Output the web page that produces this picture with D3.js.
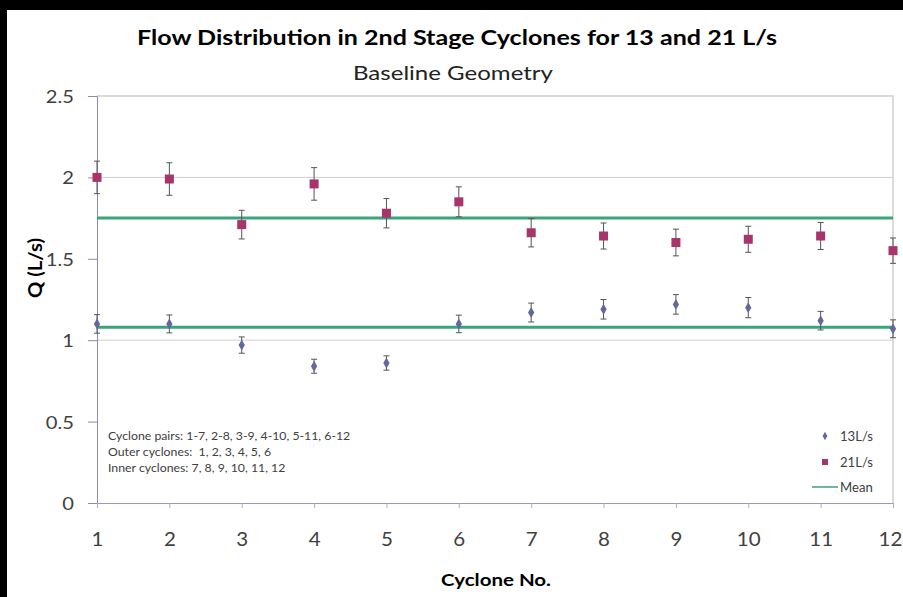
<!DOCTYPE html>
<html>
<head>
<meta charset="utf-8">
<script src="https://cdn.jsdelivr.net/npm/d3@7"></script>
<style>
  body { margin: 0; background: #000; }
  svg { display: block; }
  text { font-family: Lato, "Open Sans", sans-serif; }
</style>
</head>
<body>
<div id="chart"></div>
<script>
// 사이클론 번호
var cyclones = [1, 2, 3, 4, 5, 6, 7, 8, 9, 10, 11, 12];

// 13 L/s 유량 + 오차
var q13 = [1.10, 1.10, 0.97, 0.84, 0.86, 1.10, 1.17, 1.19, 1.22, 1.20, 1.12, 1.07];
var q13Err = [0.057, 0.055, 0.05, 0.043, 0.044, 0.054, 0.058, 0.06, 0.06, 0.062, 0.057, 0.055];

// 21 L/s 유량 + 오차
var q21 = [2.00, 1.99, 1.71, 1.96, 1.78, 1.85, 1.66, 1.64, 1.60, 1.62, 1.64, 1.55];
var q21Err = [0.10, 0.10, 0.088, 0.10, 0.09, 0.092, 0.087, 0.08, 0.082, 0.08, 0.083, 0.078];

// 평균선
var meanValues = [1.08, 1.75];

var yTicks = [0, 0.5, 1, 1.5, 2, 2.5];
var gridValues = [1, 2];

var annotationLines = [
    "Cyclone pairs: 1-7, 2-8, 3-9, 4-10, 5-11, 6-12",
    "Outer cyclones:  1, 2, 3, 4, 5, 6",
    "Inner cyclones: 7, 8, 9, 10, 11, 12"
];

var legendLabels = ["13L/s", "21L/s", "Mean"];

var svgWidth = 903, svgHeight = 597;
var margin = {top: 96, left: 97};
var width = 893 - margin.left;
var height = 503 - margin.top;

// 원본 그림이 가로로 늘어나 있어서 글자도 가로로 늘림
function stretch(sel, k) {
    sel.each(function() {
        var t = d3.select(this);
        var tx = +t.attr("x") || 0, ty = +t.attr("y") || 0;
        t.attr("x", 0).attr("y", 0)
            .attr("transform", "translate(" + tx + "," + ty + ") scale(" + k + ",1)");
    });
}

var root = d3.select("#chart").append("svg")
    .attr("width", svgWidth)
    .attr("height", svgHeight);

// 흰 배경 (검은 테두리 남김)
root.append("rect")
    .attr("x", 7).attr("y", 10)
    .attr("width", svgWidth - 7).attr("height", svgHeight - 10)
    .attr("fill", "#ffffff");

root.append("text")
    .attr("x", 457).attr("y", 45)
    .attr("text-anchor", "middle")
    .attr("font-size", "20px")
    .attr("font-weight", "bold")
    .attr("fill", "#000")
    .attr("textLength", 640)
    .attr("lengthAdjust", "spacingAndGlyphs")
    .text("Flow Distribution in 2nd Stage Cyclones for 13 and 21 L/s");

root.append("text")
    .attr("x", 453).attr("y", 80)
    .attr("text-anchor", "middle")
    .attr("font-size", "19px")
    .attr("fill", "#222")
    .attr("textLength", 200)
    .attr("lengthAdjust", "spacingAndGlyphs")
    .text("Baseline Geometry");

var svg = root.append("g")
    .attr("transform", "translate(" + margin.left + "," + margin.top + ")");

var x = d3.scaleLinear().domain([1, 12]).range([0, width]);
var y = d3.scaleLinear().domain([0, 2.5]).range([height, 0]);

// 격자선
svg.selectAll(".grid")
    .data(gridValues)
    .enter().append("line")
    .attr("class", "grid")
    .attr("x1", 0).attr("x2", width)
    .attr("y1", d => y(d)).attr("y2", d => y(d))
    .attr("stroke", "#cfcfcf")
    .attr("stroke-width", 1);

// 플롯 테두리 (위, 오른쪽)
svg.append("path")
    .attr("d", "M0," + y(2.5) + "H" + width + "V" + height)
    .attr("fill", "none")
    .attr("stroke", "#d0d0d0")
    .attr("stroke-width", 1.5);

var yAxis = svg.append("g")
    .call(d3.axisLeft(y).tickValues(yTicks).tickSize(9).tickPadding(0)
        .tickFormat(d => String(d)));
yAxis.select(".domain").attr("stroke", "#8c8ca8");
yAxis.selectAll(".tick line").attr("stroke", "#8c8ca8");
yAxis.selectAll(".tick text")
    .attr("x", -23)
    .attr("dy", "0.36em")
    .attr("font-size", "18px")
    .attr("fill", "#404040")
    .attr("font-family", "Lato, sans-serif")
    .call(stretch, 1.12);

var xAxis = svg.append("g")
    .attr("transform", "translate(0," + height + ")")
    .call(d3.axisBottom(x).tickValues(cyclones).tickSize(5).tickPadding(0)
        .tickFormat(d3.format("d")));
xAxis.select(".domain").attr("stroke", "#9a9aae");
xAxis.selectAll(".tick line").attr("stroke", "#b0b0b0");
xAxis.selectAll(".tick text")
    .attr("x", d => d === 12 ? -3 : 0)
    .attr("y", 43)
    .attr("dy", 0)
    .attr("font-size", "19px")
    .attr("fill", "#404040")
    .attr("font-family", "Lato, sans-serif")
    .call(stretch, 1.08);

// 축 제목
root.append("text")
    .attr("transform", "translate(42,268) rotate(-90)")
    .attr("text-anchor", "middle")
    .attr("font-size", "19px")
    .attr("font-weight", "bold")
    .attr("fill", "#000")
    .attr("textLength", 60)
    .attr("lengthAdjust", "spacingAndGlyphs")
    .text("Q (L/s)");

root.append("text")
    .attr("x", 496).attr("y", 586)
    .attr("text-anchor", "middle")
    .attr("font-size", "17px")
    .attr("font-weight", "bold")
    .attr("fill", "#000")
    .attr("textLength", 110)
    .attr("lengthAdjust", "spacingAndGlyphs")
    .text("Cyclone No.");

// 평균선
svg.selectAll(".mean")
    .data(meanValues)
    .enter().append("line")
    .attr("class", "mean")
    .attr("x1", x(1)).attr("x2", x(12))
    .attr("y1", d => y(d)).attr("y2", d => y(d))
    .attr("stroke", "#3aa57a")
    .attr("stroke-width", 3);

function drawErrorBars(values, errs) {
    var g = svg.append("g");
    var data = cyclones.map((c, i) => ({c: c, v: values[i], e: errs[i]}));
    g.selectAll(".eb")
        .data(data)
        .enter().append("path")
        .attr("d", d => {
            var cx = x(d.c), t = y(d.v + d.e), b = y(d.v - d.e);
            return "M" + cx + "," + t + "V" + b +
                "M" + (cx - 3) + "," + t + "H" + (cx + 3) +
                "M" + (cx - 3) + "," + b + "H" + (cx + 3);
        })
        .attr("fill", "none")
        .attr("stroke", "#555")
        .attr("stroke-width", 1);
}

drawErrorBars(q21, q21Err);
drawErrorBars(q13, q13Err);

// 21 L/s 사각형
svg.selectAll(".sq")
    .data(q21)
    .enter().append("rect")
    .attr("class", "sq")
    .attr("x", (d, i) => x(cyclones[i]) - 4.5)
    .attr("y", d => y(d) - 4.5)
    .attr("width", 9).attr("height", 9)
    .attr("fill", "#a8346c");

// 13 L/s 다이아몬드
var diamond = d3.symbol().type(d3.symbolDiamond).size(34);
svg.selectAll(".dm")
    .data(q13)
    .enter().append("path")
    .attr("class", "dm")
    .attr("d", diamond)
    .attr("transform", (d, i) => "translate(" + x(cyclones[i]) + "," + y(d) + ")")
    .attr("fill", "#6466a0");

// 주석
root.append("g").selectAll("text")
    .data(annotationLines)
    .enter().append("text")
    .attr("x", 108)
    .attr("y", (d, i) => 440 + i * 16)
    .attr("font-size", "11.5px")
    .attr("fill", "#404040")
    .attr("xml:space", "preserve")
    .style("white-space", "pre")
    .text(d => d)
    .call(stretch, 1.07);

// 범례
var legend = root.append("g");
legend.append("path")
    .attr("d", d3.symbol().type(d3.symbolDiamond).size(20))
    .attr("transform", "translate(825,436)")
    .attr("fill", "#6466a0");
legend.append("rect")
    .attr("x", 822).attr("y", 459).attr("width", 6).attr("height", 6)
    .attr("fill", "#a8346c");
legend.append("line")
    .attr("x1", 812).attr("x2", 838).attr("y1", 487).attr("y2", 487)
    .attr("stroke", "#3aa57a").attr("stroke-width", 1.5);
legend.selectAll(".lt")
    .data(legendLabels)
    .enter().append("text")
    .attr("x", 840)
    .attr("y", (d, i) => 441 + i * 25.5)
    .attr("font-size", "12.5px")
    .attr("fill", "#404040")
    .text(d => d)
    .call(stretch, 1.05);
</script>
</body>
</html>
